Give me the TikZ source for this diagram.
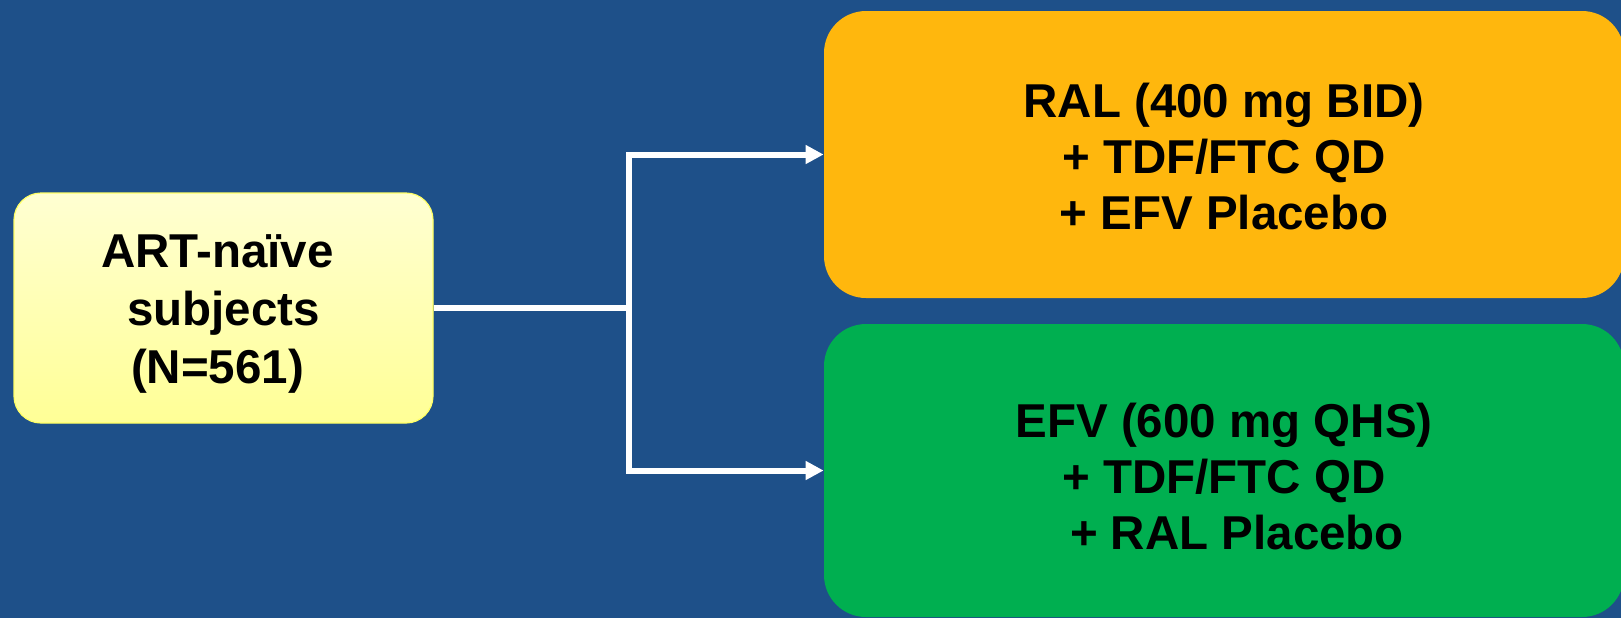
\documentclass[tikz,border=0pt]{standalone}
\usepackage{fontspec}
\setmainfont{Liberation Sans}
\usetikzlibrary{arrows.meta,positioning}

\definecolor{slideblue}{HTML}{1E5089}
\definecolor{ralorange}{HTML}{FFB70D}
\definecolor{efvgreen}{HTML}{00AF50}
\definecolor{paleyellow}{HTML}{FFFFD2}
\definecolor{softyellow}{HTML}{FFFF96}
\definecolor{edgeyellow}{HTML}{FFFF66}

% 行首/行尾的支撑线，用来微调文字的竖直位置
\newcommand{\toprule}[1]{\rule{0pt}{#1}}
\newcommand{\botrule}[1]{\rule[-#1]{0pt}{#1}}

\begin{document}
\begin{tikzpicture}[x=0.5pt, y=-0.5pt, >={Triangle[length=9pt,width=9pt]}, line join=miter,
  arm/.style={rounded corners=21pt, minimum width=400pt, inner sep=0pt, align=center},
  link/.style={draw=white, line width=3pt}]
  % 背景
  \useasboundingbox (0,0) rectangle (1621,618);
  \fill[slideblue] (0,0) rectangle (1621,618);

  % 受试者
  \node[rounded corners=13.5pt, draw=edgeyellow, line width=0.6pt, top color=paleyellow,
    bottom color=softyellow, minimum width=209.5pt, minimum height=115pt, inner sep=0pt,
    align=center, font=\bfseries\fontsize{23.75}{28.9}\selectfont] (subj) at (223.5,308)
    {\toprule{25.5pt}ART-naïve\hspace*{6pt}\\subjects\hspace*{6pt}\\(N=561)\hspace*{6pt}\botrule{8pt}};

  % 两个治疗组
  \node[arm, fill=ralorange, minimum height=143.5pt,
    font=\bfseries\fontsize{23.75}{27.8}\selectfont] (ral) at (1224,154.5)
    {\toprule{27pt}RAL (400 mg BID)\\+ TDF/FTC QD\\+ EFV Placebo\botrule{8pt}};
  \node[arm, fill=efvgreen, minimum height=146.5pt,
    font=\bfseries\fontsize{23.75}{28}\selectfont] (efv) at (1224,470.5)
    {\toprule{30.6pt}EFV (600 mg QHS)\\+ TDF/FTC QD\\\hspace*{13pt}+ RAL Placebo\botrule{8pt}};

  % 随机分组的连线
  \coordinate (split) at (629,308);
  \draw[link] (subj.east) -- (split);
  \draw[link, ->] (split) |- (ral.west);
  \draw[link, ->] (split) |- (efv.west);
\end{tikzpicture}
\end{document}
